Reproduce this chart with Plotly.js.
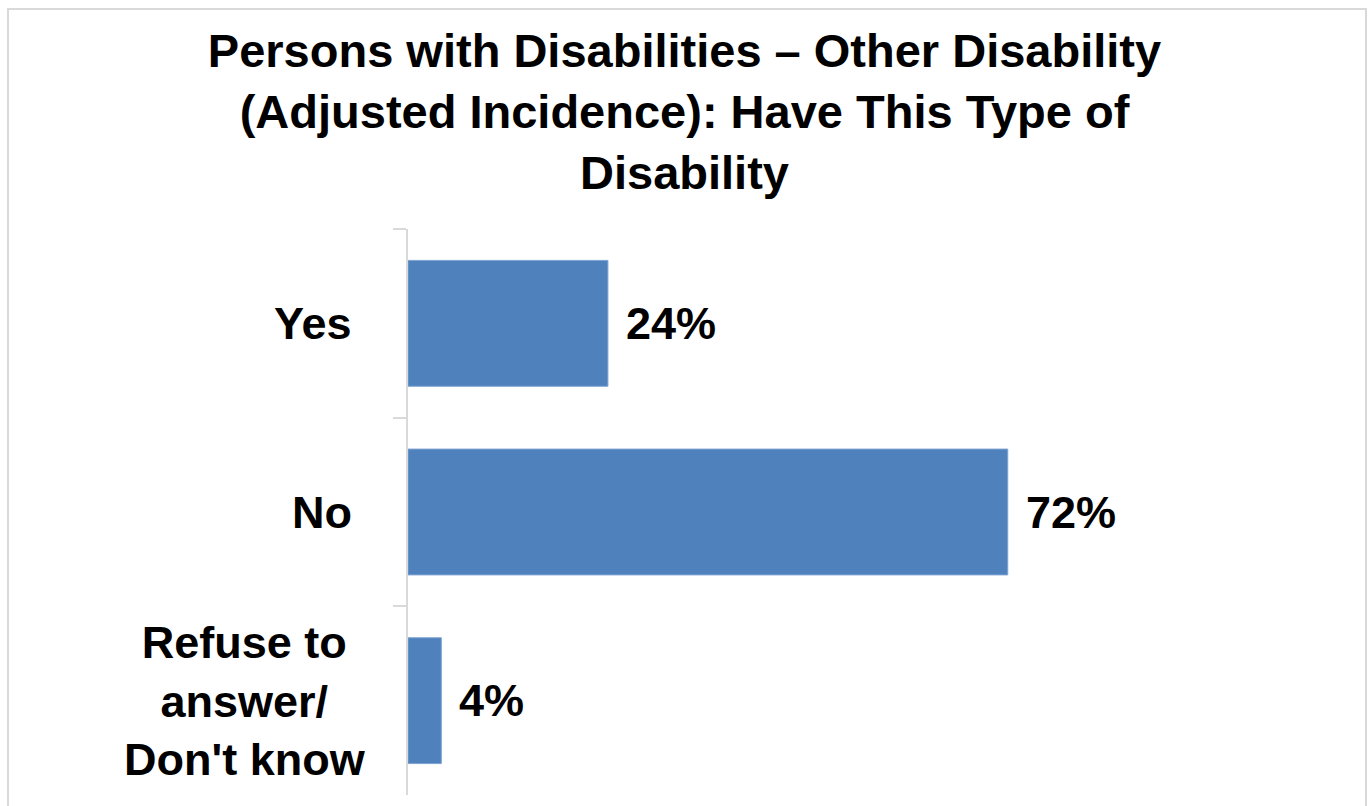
<!DOCTYPE html>
<html>
<head>
<meta charset="utf-8">
<script src="https://cdn.plot.ly/plotly-3.0.1.min.js"></script>
<style>
  html, body { margin: 0; padding: 0; background: #fff; overflow: hidden; }
  #wrap { position: relative; width: 1369px; height: 806px; }
  #chart { position: absolute; left: 0; top: 0; width: 1369px; height: 806px; }
  #frame { position: absolute; left: 7px; top: 8px; width: 1356px; height: 820px;
           border: 2px solid #d9d9d9; pointer-events: none; }
</style>
</head>
<body>
<div id="wrap">
  <div id="chart"></div>
  <div id="frame"></div>
</div>
<script>
const titleText = "Persons with Disabilities – Other Disability<br>(Adjusted Incidence): Have This Type of<br>Disability";
const categories = ["Yes", "No", "Refuse to<br>answer/<br>Don't know"];
const values = [24, 72, 4];
const valueLabels = ["24%", "72%", "4%"];

const FONT = "Liberation Sans, Arial, sans-serif";
const barColor = "#4F81BD";

const trace = {
  type: "bar",
  orientation: "h",
  y: categories,
  x: values,
  marker: { color: barColor, line: { color: "#7FA3D3", width: 1 } },
  hoverinfo: "skip",
  showlegend: false
};

const annotations = [];
categories.forEach((c, i) => {
  annotations.push({
    x: values[i], y: c, xref: "x", yref: "y",
    text: valueLabels[i], showarrow: false,
    xanchor: "left", yanchor: "middle", xshift: 16,
    font: { family: FONT, size: 45, color: "#000", weight: 700 }
  });
  const multi = c.indexOf("<br>") >= 0;
  annotations.push({
    x: 0, y: c, xref: "paper", yref: "y",
    text: c, showarrow: false,
    xanchor: "right", yanchor: "middle", align: "center",
    xshift: multi ? -40 : -54,
    font: { family: FONT, size: 45, color: "#000", weight: 700 }
  });
});

const layout = {
  width: 1369, height: 806,
  paper_bgcolor: "#fff", plot_bgcolor: "#fff",
  margin: { l: 408, r: 128, t: 229, b: 11 },
  title: {
    text: titleText,
    x: 0.5, xref: "container", xanchor: "center",
    y: 1 - 67 / 806, yref: "container", yanchor: "middle",
    font: { family: FONT, size: 47, color: "#000", weight: 700 }
  },
  bargap: 0.333,
  xaxis: { range: [0, 100], visible: false, fixedrange: true },
  yaxis: {
    type: "category",
    categoryorder: "array", categoryarray: categories,
    autorange: "reversed",
    showline: true, linecolor: "#d9d9d9", linewidth: 2,
    ticks: "outside", tickson: "boundaries", ticklen: 13,
    tickcolor: "#d9d9d9", tickwidth: 2,
    showticklabels: false, showgrid: false, zeroline: false,
    fixedrange: true
  },
  annotations: annotations
};

Plotly.newPlot("chart", [trace], layout, { displayModeBar: false, staticPlot: true });
</script>
</body>
</html>
